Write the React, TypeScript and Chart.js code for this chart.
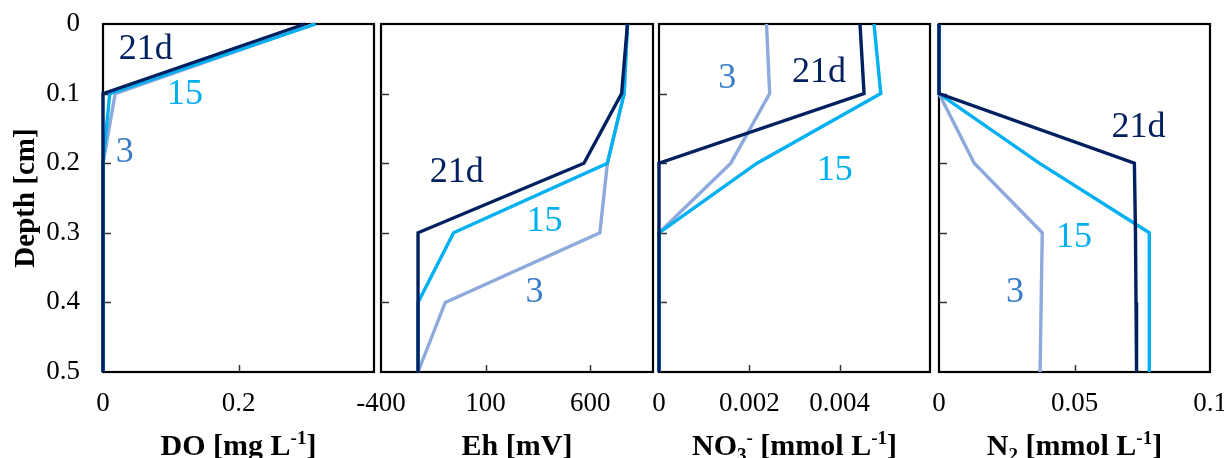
import React, { useEffect, useRef } from 'react';
import { Chart, registerables } from 'chart.js';

Chart.register(...registerables);

// ---------------- data ----------------
const depths = [0, 0.1, 0.2, 0.3, 0.4, 0.5];
const depthTicks = [0, 0.1, 0.2, 0.3, 0.4, 0.5];
const seriesNames = ['21d', '15', '3'];

const doValues21 = [0.298, 0, 0, 0, 0, 0];
const doValues15 = [0.314, 0.01, 0, 0, 0, 0];
const doValues3 = [0.312, 0.018, 0, 0, 0, 0];
const doTicks = [0, 0.2];

const ehValues21 = [778, 750, 570, -223, -223, -223];
const ehValues15 = [778, 762, 682, -53, -223, -223];
const ehValues3 = [778, 762, 682, 646, -93, -223];
const ehTicks = [-400, 100, 600];

const no3Values21 = [0.00445, 0.00454, 0, 0, 0, 0];
const no3Values15 = [0.00476, 0.00491, 0.00217, 0, 0, 0];
const no3Values3 = [0.00238, 0.00245, 0.00159, 0, 0, 0];
const no3Ticks = [0, 0.002, 0.004];

const n2Values21 = [0, 0, 0.0721, 0.0725, 0.0727, 0.0729];
const n2Values15 = [0, 0, 0.037, 0.0776, 0.0776, 0.0776];
const n2Values3 = [0, 0, 0.013, 0.0381, 0.0377, 0.0373];
const n2Ticks = [0, 0.05, 0.1];

// series label anchors, in data units [value, depth] for 21d, 15, 3
const doLabelAt = [[0.063, 0.037], [0.121, 0.102], [0.032, 0.185]];
const ehLabelAt = [[-38, 0.214], [382, 0.284], [334, 0.386]];
const no3LabelAt = [[0.00354, 0.07], [0.00389, 0.21], [0.00151, 0.078]];
const n2LabelAt = [[0.0736, 0.149], [0.0498, 0.307], [0.028, 0.386]];

// axis titles: [text, 0 normal | 1 superscript | -1 subscript]
const doTitle: [string, number][] = [['DO [mg L', 0], ['-1', 1], [']', 0]];
const ehTitle: [string, number][] = [['Eh [mV]', 0]];
const no3Title: [string, number][] = [['NO', 0], ['3', -1], ['-', 1], [' [mmol L', 0], ['-1', 1], [']', 0]];
const n2Title: [string, number][] = [['N', 0], ['2', -1], [' [mmol L', 0], ['-1', 1], [']', 0]];
const yTitle = 'Depth [cm]';

// ---------------- styles / layout ----------------
const W = 1224;
const H = 458;
const FONT = "'Liberation Serif', 'Times New Roman', Times, serif";
const lineColors = ['#002060', '#00B0F0', '#8EA9DB'];
const textColors = ['#002060', '#00B0F0', '#3A7DC6'];

const panels = [
  { min: 0, max: 0.4, ticks: doTicks, values: [doValues21, doValues15, doValues3], labelAt: doLabelAt, title: doTitle, left: 103, right: 374 },
  { min: -400, max: 900, ticks: ehTicks, values: [ehValues21, ehValues15, ehValues3], labelAt: ehLabelAt, title: ehTitle, left: 381, right: 653 },
  { min: 0, max: 0.006, ticks: no3Ticks, values: [no3Values21, no3Values15, no3Values3], labelAt: no3LabelAt, title: no3Title, left: 659, right: 930 },
  { min: 0, max: 0.1, ticks: n2Ticks, values: [n2Values21, n2Values15, n2Values3], labelAt: n2LabelAt, title: n2Title, left: 939, right: 1210 },
];
const PLOT_TOP = 24;
const PLOT_BOTTOM = 372;

function drawSegments(ctx: CanvasRenderingContext2D, segs: [string, number][], size: number, cx: number, baseY: number) {
  const fontFor = (k: number) => `bold ${k === 0 ? size : Math.round(size * 0.62)}px ${FONT}`;
  let total = 0;
  const widths = segs.map(([t, k]) => {
    ctx.font = fontFor(k);
    const w = ctx.measureText(t).width;
    total += w;
    return w;
  });
  let x = cx - total / 2;
  ctx.textAlign = 'left';
  ctx.textBaseline = 'alphabetic';
  segs.forEach(([t, k], i) => {
    ctx.font = fontFor(k);
    const dy = k === 1 ? -size * 0.36 : k === -1 ? size * 0.2 : 0;
    ctx.fillText(t, x, baseY + dy);
    x += widths[i];
  });
}

function buildChart(canvas: HTMLCanvasElement, p: typeof panels[number], idx: number) {
  const datasets = p.values.map((vals, i) => ({
    label: seriesNames[i],
    data: depths.map((d, j) => ({ x: vals[j], y: d })),
    borderColor: lineColors[i],
    backgroundColor: lineColors[i],
    borderWidth: 3.4,
    pointRadius: 0,
    pointHoverRadius: 0,
    fill: false,
    tension: 0,
    clip: false as any,
    borderJoinStyle: 'miter' as const,
  }));

  const deco = {
    id: 'deco' + idx,
    beforeDatasetsDraw(chart: any) {
      const { ctx, chartArea: a, scales } = chart;
      ctx.save();
      ctx.strokeStyle = '#000';
      ctx.lineWidth = 2.2;
      ctx.strokeRect(a.left, a.top, a.right - a.left, a.bottom - a.top);
      ctx.strokeStyle = '#333';
      ctx.lineWidth = 1.5;
      p.ticks.forEach((v) => {
        if (v > p.min && v < p.max) {
          const px = Math.round(scales.x.getPixelForValue(v)) + 0.5;
          ctx.beginPath();
          ctx.moveTo(px, a.bottom);
          ctx.lineTo(px, a.bottom - 7);
          ctx.stroke();
        }
      });
      depthTicks.forEach((d) => {
        if (d > 0 && d < 0.5) {
          const py = Math.round(scales.y.getPixelForValue(d)) + 0.5;
          ctx.beginPath();
          ctx.moveTo(a.left, py);
          ctx.lineTo(a.left + 8, py);
          ctx.stroke();
        }
      });
      ctx.restore();
    },
    afterDatasetsDraw(chart: any) {
      const { ctx, scales } = chart;
      ctx.save();
      ctx.font = `36px ${FONT}`;
      ctx.textAlign = 'center';
      ctx.textBaseline = 'middle';
      p.labelAt.forEach(([vx, vy], i) => {
        ctx.fillStyle = textColors[i];
        ctx.fillText(seriesNames[i], scales.x.getPixelForValue(vx), scales.y.getPixelForValue(vy));
      });
      ctx.restore();
    },
    afterDraw(chart: any) {
      const { ctx, chartArea: a } = chart;
      ctx.save();
      ctx.fillStyle = '#000';
      drawSegments(ctx, p.title, 30, (a.left + a.right) / 2, 455);
      if (idx === 0) {
        ctx.translate(34, (a.top + a.bottom) / 2);
        ctx.rotate(-Math.PI / 2);
        ctx.font = `bold 29px ${FONT}`;
        ctx.textAlign = 'center';
        ctx.textBaseline = 'alphabetic';
        ctx.fillText(yTitle, 0, 0);
      }
      ctx.restore();
    },
  };

  return new Chart(canvas, {
    type: 'line',
    data: { datasets },
    plugins: [deco],
    options: {
      animation: false,
      responsive: false,
      maintainAspectRatio: false,
      indexAxis: 'y',
      events: [],
      layout: {
        autoPadding: false,
        padding: { left: 0, right: W - p.right, top: PLOT_TOP, bottom: 0 },
      },
      plugins: { legend: { display: false }, tooltip: { enabled: false }, title: { display: false } },
      scales: {
        x: {
          type: 'linear',
          position: 'bottom',
          min: p.min,
          max: p.max,
          grid: { display: false, drawTicks: false },
          border: { display: false },
          afterBuildTicks: (axis: any) => {
            axis.ticks = p.ticks.map((v) => ({ value: v }));
          },
          afterFit: (axis: any) => {
            axis.height = H - PLOT_BOTTOM;
            axis.paddingLeft = 0;
            axis.paddingRight = 0;
          },
          ticks: {
            padding: 16,
            color: '#000',
            font: { family: FONT, size: 27 },
            maxRotation: 0,
            minRotation: 0,
            autoSkip: false,
            callback: (v: any) => String(Number(v)),
          },
        },
        y: {
          type: 'linear',
          position: 'left',
          reverse: true,
          min: 0,
          max: 0.5,
          grid: { display: false, drawTicks: false },
          border: { display: false },
          afterBuildTicks: (axis: any) => {
            axis.ticks = depthTicks.map((v) => ({ value: v }));
          },
          afterFit: (axis: any) => {
            axis.width = p.left;
            axis.paddingTop = 0;
            axis.paddingBottom = 0;
          },
          ticks: {
            display: idx === 0,
            padding: 23,
            color: '#000',
            font: { family: FONT, size: 27 },
            autoSkip: false,
            callback: (v: any) => String(Number(v)),
          },
        },
      },
    } as any,
  });
}

export default function App() {
  const refs = [useRef<HTMLCanvasElement>(null), useRef<HTMLCanvasElement>(null), useRef<HTMLCanvasElement>(null), useRef<HTMLCanvasElement>(null)];

  useEffect(() => {
    document.body.style.margin = '0';
    document.body.style.background = '#fff';
    const charts = panels.map((p, i) => buildChart(refs[i].current as HTMLCanvasElement, p, i));
    return () => charts.forEach((c) => c.destroy());
  }, []);

  return (
    <div style={{ position: 'relative', width: W, height: H, overflow: 'hidden', background: '#fff' }}>
      {panels.map((_, i) => (
        <canvas
          key={i}
          ref={refs[i]}
          width={W}
          height={H}
          style={{ position: 'absolute', left: 0, top: 0, width: W, height: H }}
        />
      ))}
    </div>
  );
}
